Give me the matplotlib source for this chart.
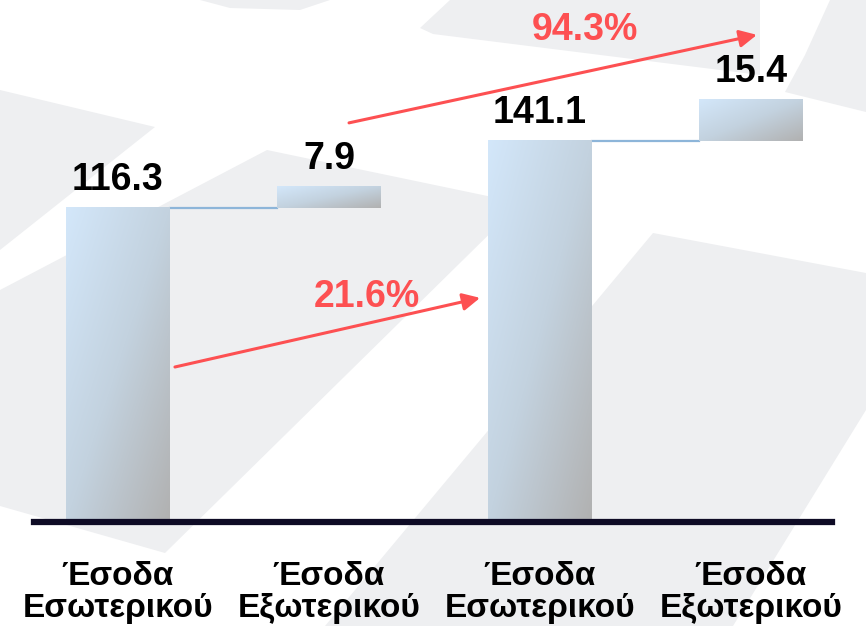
import numpy as np
import matplotlib
matplotlib.use("Agg")
import matplotlib.pyplot as plt
from matplotlib.colors import LinearSegmentedColormap

# data
categories = ["Έσοδα\nΕσωτερικού", "Έσοδα\nΕξωτερικού", "Έσοδα\nΕσωτερικού", "Έσοδα\nΕξωτερικού"]
values = [116.3, 7.9, 141.1, 15.4]
bottoms = [0, 116.3, 0, 141.1]
growth_labels = ["21.6%", "94.3%"]

W, H = 866, 626
fig = plt.figure(figsize=(W / 100, H / 100), dpi=100)
fig.patch.set_facecolor("white")

# background watermark shapes (pixel coords, y down)
bg = fig.add_axes([0, 0, 1, 1])
bg.set_xlim(0, W)
bg.set_ylim(H, 0)
bg.axis("off")
shapes = [
    [(0, 90), (155, 127), (0, 250)],
    [(267, 150), (521, 203), (165, 553), (0, 506), (0, 290)],
    [(653, 233), (866, 273), (866, 410), (733, 626), (325, 626)],
    [(420, 28), (450, 0), (760, 0), (760, 75), (433, 34)],
    [(830, 0), (866, 0), (866, 112), (785, 92), (805, 55)],
    [(200, 0), (330, 0), (300, 10), (230, 8)],
]
for s in shapes:
    xs, ys = zip(*s)
    bg.fill(xs, ys, color="#eeeff1", lw=0)

# main axes
ax = fig.add_axes([34 / W, 1 - 522 / H, (832 - 34) / W, 522 / H])
ax.patch.set_visible(False)
x = np.arange(len(values))
width = 0.49
ax.set_xlim(-0.398, 3.384)
ax.set_ylim(0, 193.3)

bars = ax.bar(x, values, width, bottom=bottoms, color="none", lw=0, zorder=2)

cmap = LinearSegmentedColormap.from_list("g", ["#d3e7fa", "#c3d2df", "#b1b1b1"])
for b in bars:
    x0, y0 = b.get_x(), b.get_y()
    w, h = b.get_width(), b.get_height()
    u = np.linspace(0, 1, 100)[None, :]
    v = np.linspace(0, 1, 200)[:, None]
    t = 0.5 * (u + v)   # row 0 = top -> light blue top-left, grey bottom-right
    ax.imshow(t, cmap=cmap, extent=(x0, x0 + w, y0, y0 + h), aspect="auto",
              origin="upper", clip_path=b, zorder=2, vmin=0, vmax=1)

# connector lines
for i in (0, 2):
    top = bottoms[i] + values[i]
    ax.plot([x[i] + width / 2, x[i + 1] - width / 2], [top, top],
            color="#8db5d9", lw=1.6, zorder=1)

# value labels
for i, v in enumerate(values):
    ax.annotate(f"{v}", (x[i], bottoms[i] + v), xytext=(0, 7), textcoords="offset points",
                ha="center", va="bottom", fontsize=27, fontweight="bold",
                family=["Liberation Sans", "DejaVu Sans"], color="black")

red = "#fd5052"
arrows = [((0.27, 57.4), (1.716, 83.0)), ((1.095, 147.8), (3.028, 180.4))]
label_pos = [(1.18, 83.3), (2.213, 182.2)]
for (start, end), txt, pos in zip(arrows, growth_labels, label_pos):
    ax.annotate("", xy=end, xytext=start,
                arrowprops=dict(arrowstyle="-|>", color=red, lw=2.2,
                                mutation_scale=26, shrinkA=0, shrinkB=0))
    ax.text(pos[0], pos[1], txt, color=red, fontsize=27, fontweight="bold",
            ha="center", va="center", family=["Liberation Sans", "DejaVu Sans"])

ax.axhline(0, color="#0e0b25", lw=4.5, zorder=3, clip_on=False)

# category labels
ax.set_xticks([])
ax.set_yticks([])
for i, c in enumerate(categories):
    ax.text(x[i], -0.074, c, transform=ax.get_xaxis_transform(), ha="center", va="top",
            multialignment="center", fontsize=24, fontweight="bold", linespacing=1.05,
            family=["Liberation Sans", "DejaVu Sans"], color="black")
for sp in ax.spines.values():
    sp.set_visible(False)

fig.savefig("out.png", dpi=100)
